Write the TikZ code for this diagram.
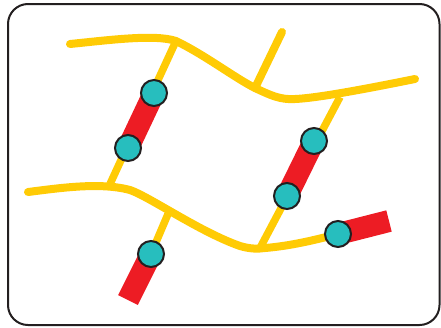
\documentclass[tikz,border=0pt]{standalone}
\definecolor{chain}{HTML}{FFCB05}
\definecolor{redbar}{HTML}{ED1C24}
\definecolor{bead}{HTML}{27BEBE}
\definecolor{outline}{HTML}{231F20}
\pgfdeclarelayer{bg}
\pgfsetlayers{bg,main}
\begin{document}
\begin{tikzpicture}[x=1pt,y=-1pt,
  chainline/.style={draw=chain,line width=8pt,line cap=round,line join=round},
  rungline/.style={draw=chain,line width=7.5pt},
  barline/.style={draw=redbar,line width=22pt,line cap=butt},
  beadnode/.style={circle,fill=bead,draw=outline,line width=2pt,minimum size=26pt,inner sep=0pt}]
\useasboundingbox (0,0) rectangle (441,327);
\draw[outline,line width=2pt,rounded corners=20pt] (8,4) rectangle (439.5,325);
% junction coordinates
\coordinate (t0) at (70,44);
\coordinate (tj1) at (176,41);
\coordinate (tj2) at (255,88);
\coordinate (tj3) at (340,97);
\coordinate (t1) at (415,79);
\coordinate (up) at (282,32);
\coordinate (b0) at (28,192);
\coordinate (bj1) at (110,184);
\coordinate (bj2) at (168,214);
\coordinate (bj3) at (260,248);
\coordinate (e1) at (128,300);
\coordinate (e2) at (389,221);
% beads
\node[beadnode] (c1) at (154,93) {};
\node[beadnode] (c2) at (128,148) {};
\node[beadnode] (c3) at (314,141) {};
\node[beadnode] (c4) at (287,196) {};
\node[beadnode] (c5) at (151,254) {};
\node[beadnode] (c6) at (338,234) {};
\begin{pgfonlayer}{bg}
% yellow chains
\draw[chainline] (t0) .. controls (110,40) and (155,34) .. (tj1)
  .. controls (205,55) and (235,78) .. (tj2)
  .. controls (270,95) and (280,100) .. (295,99)
  .. controls (320,98) and (380,86) .. (t1);
\draw[chainline] (tj2) -- (up);
\draw[chainline] (b0) .. controls (60,188) and (100,182) .. (130,190)
  .. controls (150,197) and (200,232) .. (240,246)
  .. controls (250,249) and (258,249) .. (265,248)
  .. controls (290,246) and (315,240) .. (c6.center);
\draw[rungline] (tj1) -- (bj1);
\draw[rungline] (tj3) -- (bj3);
\draw[rungline] (bj2) -- (c5.center);
% red bars
\draw[barline] (c1.center) -- (c2.center);
\draw[barline] (c3.center) -- (c4.center);
\draw[barline] (c5.center) -- (e1);
\draw[barline] (c6.center) -- (e2);
\end{pgfonlayer}
\end{tikzpicture}
\end{document}
